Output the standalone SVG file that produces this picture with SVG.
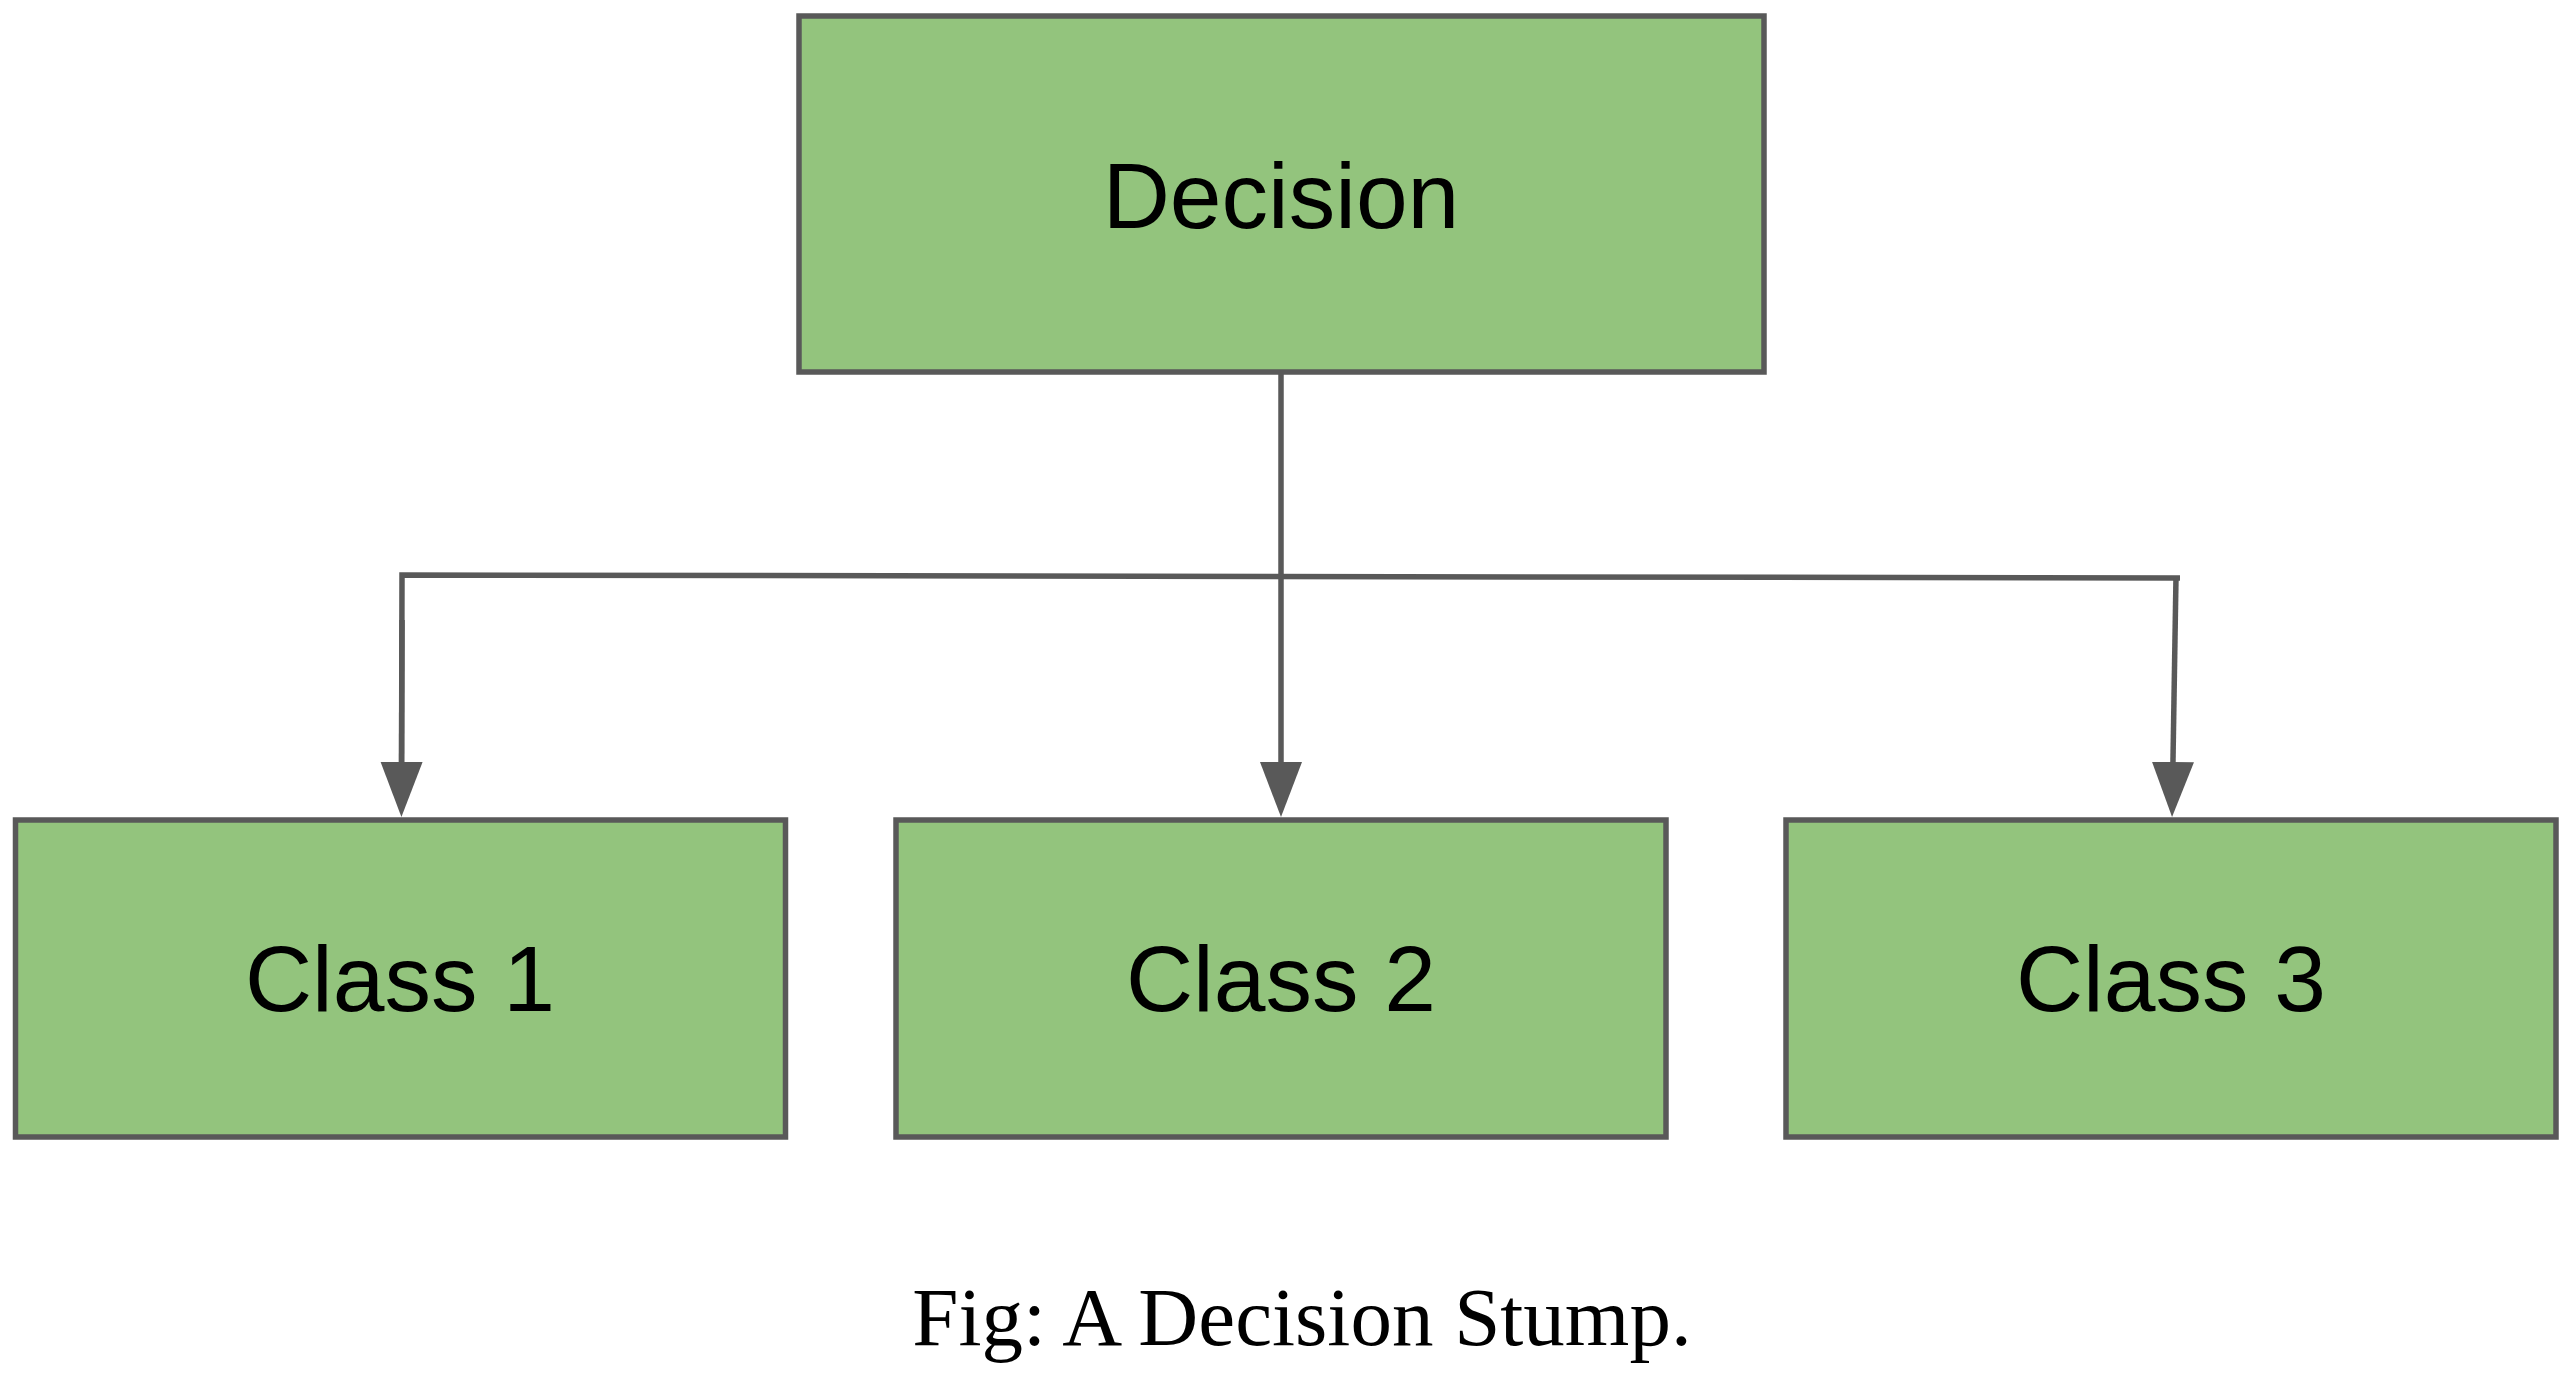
<svg xmlns="http://www.w3.org/2000/svg" width="2572" height="1374" viewBox="0 0 2572 1374">
  <style>
    .box { fill: #93c47d; stroke: #595959; stroke-width: 5.5; }
    .lbl { font-family: "Liberation Sans", Arial, sans-serif; font-size: 93px; fill: #000000; text-anchor: middle; }
    .cap { font-family: "Liberation Serif", "Times New Roman", serif; font-size: 83px; fill: #000000; text-anchor: middle; }
    .edge { fill: none; stroke: #595959; stroke-width: 5.5; stroke-linecap: butt; stroke-linejoin: miter; }
  </style>
  <defs>
    <marker id="arrow" markerUnits="userSpaceOnUse" markerWidth="60" markerHeight="45" refX="28" refY="21" orient="auto" viewBox="0 0 60 45">
      <path d="M0,0 L55,21 L0,42 Z" fill="#595959"/>
    </marker>
  </defs>
  <rect x="0" y="0" width="2572" height="1374" fill="#ffffff"/>
  <g id="connectors">
    <line class="edge" x1="1281" y1="372" x2="1281" y2="790" marker-end="url(#arrow)"/>
    <polyline class="edge" points="401.5,790 402,575 2180,578"/>
    <path class="edge" d="M402,620 L401.5,790" marker-end="url(#arrow)"/>
    <line class="edge" x1="2176" y1="577" x2="2172.5" y2="790" marker-end="url(#arrow)"/>
  </g>
  <g id="node-decision">
    <rect class="box" x="799" y="16" width="965" height="356"/>
    <text class="lbl" x="1281" y="228">Decision</text>
  </g>
  <g id="node-class1">
    <rect class="box" x="15.5" y="820" width="770" height="317"/>
    <text class="lbl" x="400" y="1011">Class 1</text>
  </g>
  <g id="node-class2">
    <rect class="box" x="896" y="820" width="770" height="317"/>
    <text class="lbl" x="1281" y="1011">Class 2</text>
  </g>
  <g id="node-class3">
    <rect class="box" x="1786" y="820" width="770" height="317"/>
    <text class="lbl" x="2171" y="1011">Class 3</text>
  </g>
  <text class="cap" x="1302" y="1345">Fig: A Decision Stump.</text>
</svg>
